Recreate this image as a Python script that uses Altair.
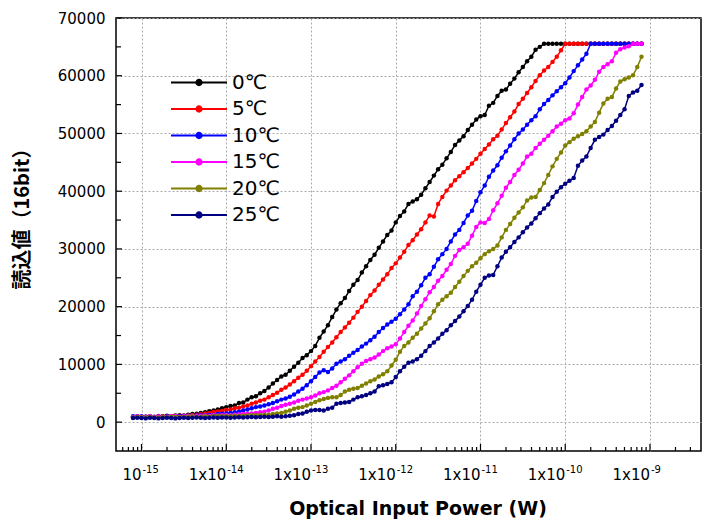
import altair as alt
import pandas as pd

# log10 of optical input power (W) at each measurement point
X_EXP = [
    -15.10, -15.05, -15.00, -14.95, -14.90, -14.85, -14.80, -14.75, -14.70, -14.65,
    -14.60, -14.55, -14.50, -14.45, -14.40, -14.35, -14.30, -14.25, -14.20, -14.15,
    -14.10, -14.05, -14.00, -13.95, -13.90, -13.85, -13.80, -13.75, -13.70, -13.65,
    -13.60, -13.55, -13.50, -13.45, -13.40, -13.35, -13.30, -13.25, -13.20, -13.15,
    -13.10, -13.05, -13.00, -12.95, -12.90, -12.85, -12.80, -12.75, -12.70, -12.65,
    -12.60, -12.55, -12.50, -12.45, -12.40, -12.35, -12.30, -12.25, -12.20, -12.15,
    -12.10, -12.05, -12.00, -11.95, -11.90, -11.85, -11.80, -11.75, -11.70, -11.65,
    -11.60, -11.55, -11.50, -11.45, -11.40, -11.35, -11.30, -11.25, -11.20, -11.15,
    -11.10, -11.05, -11.00, -10.95, -10.90, -10.85, -10.80, -10.75, -10.70, -10.65,
    -10.60, -10.55, -10.50, -10.45, -10.40, -10.35, -10.30, -10.25, -10.20, -10.15,
    -10.10, -10.05, -10.00, -9.95, -9.90, -9.85, -9.80, -9.75, -9.70, -9.65,
    -9.60, -9.55, -9.50, -9.45, -9.40, -9.35, -9.30, -9.25, -9.20, -9.15,
    -9.10,
]

SERIES = ["0℃", "5℃", "10℃", "15℃", "20℃", "25℃"]
COLORS = ["#000000", "#ff0000", "#0000ff", "#ff00ff", "#808000", "#000080"]

V_0C = [
    900, 1000, 850, 950, 1000, 900, 1050, 1000, 1100, 1000, 1150, 1200, 1150, 1300, 1400, 1450, 1600, 1700, 1900, 2000, 2200, 2400, 2600,
    2800, 2900, 3300, 3400, 3900, 4300, 4500, 5000, 5400, 6000, 6700, 7300, 7900, 8200, 8900, 9600, 10300, 11100, 11600, 12300,
    13200, 14600, 15700, 16800, 18200, 19500, 20600, 21500, 22700, 23800, 24600, 25900, 27000, 28100, 29000, 30200, 31300, 32400, 33200, 34600,
    35700, 36500, 37800, 38200, 38600, 39400, 40500, 41600, 42700, 43800, 44600, 45700, 46800, 48000, 48800, 49500, 50600, 51500, 52400, 53000,
    53200, 54800, 55300, 56500, 57400, 57600, 58600, 59500, 60600, 61500, 62500, 63300, 64500, 65000, 65535, 65535, 65535, 65535, 65535, 65535,
    65535, 65535, 65535, 65535, 65535, 65535, 65535, 65535, 65535, 65535, 65535, 65535, 65535, 65535, 65535, 65535, 65535, 65535,
]
V_5C = [
    800, 900, 850, 900, 950, 850, 900, 1000, 950, 1000, 1050, 1100, 1050, 1150, 1200, 1300, 1350, 1500, 1600, 1750, 1850, 1950, 2100,
    2200, 2400, 2500, 2700, 2900, 3200, 3400, 3700, 3900, 4300, 4700, 5100, 5600, 6000, 6500, 7100, 7700, 8200, 8900, 9700,
    10500, 11300, 12200, 13000, 13800, 14700, 15600, 16400, 17200, 18100, 19100, 20000, 21000, 22000, 22800, 23800, 24700, 25600, 26700, 27500,
    28500, 29500, 30700, 31500, 32500, 33400, 34600, 35800, 35600, 37800, 39000, 40100, 41000, 41900, 42600, 43300, 44000, 44800, 45600, 46500,
    47300, 48100, 49000, 49600, 50700, 51800, 52800, 53800, 55100, 56000, 57000, 58000, 59100, 60100, 60900, 61500, 62400, 63300, 64400, 65535,
    65535, 65535, 65535, 65535, 65535, 65535, 65535, 65535, 65535, 65535, 65535, 65535, 65535, 65535, 65535, 65535, 65535, 65535,
]
V_10C = [
    1000, 900, 1000, 950, 850, 900, 950, 900, 1000, 950, 1000, 1050, 1000, 1100, 1050, 1150, 1200, 1200, 1250, 1300, 1400, 1450, 1500,
    1600, 1700, 1800, 2000, 2200, 2400, 2600, 2700, 2900, 3100, 3300, 3600, 3900, 4100, 4400, 4800, 5300, 5800, 6400, 7100,
    7800, 8600, 9000, 8700, 9300, 10100, 10500, 10900, 11500, 12000, 12500, 13100, 13600, 14200, 14800, 15600, 16300, 16900, 17400, 17900,
    18700, 19500, 20400, 21800, 22600, 23700, 25000, 25600, 26900, 28200, 29100, 30000, 31300, 32500, 33300, 34500, 35800, 36600, 38300, 39800,
    41000, 42500, 43600, 44500, 45800, 46900, 47900, 49000, 50000, 50700, 51500, 52300, 53000, 54200, 55100, 55800, 56600, 57300, 58000, 58700,
    59700, 60800, 61800, 62800, 63800, 65535, 65535, 65535, 65535, 65535, 65535, 65535, 65535, 65535, 65535, 65535, 65535, 65535,
]
V_15C = [
    900, 1000, 950, 900, 1000, 950, 1000, 900, 950, 1000, 1050, 950, 1000, 1050, 1100, 1050, 1100, 1150, 1100, 1200, 1150, 1200, 1250,
    1200, 1300, 1350, 1400, 1450, 1500, 1600, 1700, 1800, 2000, 2300, 2500, 2800, 3000, 3200, 3400, 3700, 3900, 4100, 4300,
    4600, 5000, 5200, 5500, 5900, 6300, 6900, 7500, 8100, 8800, 9500, 10100, 10600, 10900, 11200, 11700, 12300, 12800, 13100, 13500,
    14500, 15600, 16700, 17600, 18800, 20100, 21300, 22500, 23400, 24500, 25300, 26400, 27400, 28800, 29800, 30300, 30900, 32300, 33800, 34600,
    34500, 35200, 36700, 37900, 39200, 40600, 41600, 42800, 43700, 44800, 46000, 46500, 47500, 48200, 48900, 49600, 50400, 51200, 51700, 52300,
    52600, 53500, 55000, 56300, 57600, 58300, 59300, 60700, 61500, 62000, 62500, 64000, 64600, 64900, 65100, 65535, 65535, 65535,
]
V_20C = [
    800, 900, 850, 800, 900, 850, 800, 900, 850, 900, 950, 850, 900, 950, 1000, 900, 950, 1000, 950, 1000, 1050, 1000, 1050,
    1050, 1100, 1050, 1100, 1150, 1200, 1200, 1250, 1300, 1300, 1400, 1500, 1600, 1800, 2000, 2300, 2500, 2600, 2900, 3200,
    3500, 3800, 4000, 4200, 4300, 4300, 4700, 5300, 5600, 5800, 5900, 6300, 6700, 7100, 7400, 7900, 8300, 8800, 9800, 10800,
    12200, 13200, 13800, 14600, 15300, 16200, 17100, 18000, 19200, 20400, 21200, 21800, 22400, 23400, 24300, 25300, 26200, 27000, 27600, 28400,
    29100, 29600, 30000, 30600, 32000, 33300, 34300, 35400, 36300, 37200, 38400, 38900, 39000, 40200, 41400, 42800, 44300, 45600, 46700, 47900,
    48500, 49100, 49500, 49900, 50400, 51200, 52000, 53600, 55200, 56000, 56300, 57800, 59000, 59400, 59700, 60100, 61500, 63300,
]
V_25C = [
    700, 750, 700, 650, 750, 700, 650, 700, 750, 700, 650, 700, 750, 700, 750, 800, 750, 700, 750, 800, 750, 800, 800,
    750, 800, 850, 800, 850, 900, 850, 900, 950, 900, 950, 1000, 950, 1000, 1100, 1200, 1400, 1500, 1800, 2000,
    2100, 2100, 2000, 2300, 2500, 3200, 3300, 3400, 3500, 3900, 4300, 4500, 4700, 5000, 5300, 6200, 6400, 6600, 6900, 7800,
    8800, 9600, 10300, 10500, 10900, 11500, 12300, 13200, 13800, 14500, 15300, 15900, 16800, 17500, 18300, 19200, 20100, 21200, 22600, 23800,
    25000, 25400, 25500, 27000, 28500, 29500, 30300, 31200, 32000, 32900, 33700, 34400, 35300, 36200, 37000, 37700, 39000, 39900, 40700, 41300,
    41800, 42300, 44400, 45300, 46000, 47500, 48900, 49400, 49800, 50600, 51300, 52200, 53200, 54200, 56500, 57100, 57400, 58400,
]
VALUES = [V_0C, V_5C, V_10C, V_15C, V_20C, V_25C]
for v in VALUES:
    assert len(v) == len(X_EXP), len(v)

# x tick labels: mantissa part and superscript exponent part
X_TICKS = [1e-15, 1e-14, 1e-13, 1e-12, 1e-11, 1e-10, 1e-9]
X_LABEL_BASE = ["10", "1x10", "1x10", "1x10", "1x10", "1x10", "1x10"]
X_LABEL_SUP = ["-15", "-14", "-13", "-12", "-11", "-10", "-9"]
X_MINOR = [k * 10.0 ** n for n in range(-16, -8) for k in range(2, 10)
           if 5.01e-16 < k * 10.0 ** n < 3.99e-9]
Y_TICKS = [0, 10000, 20000, 30000, 40000, 50000, 60000, 70000]
Y_MINOR = [5000, 15000, 25000, 35000, 45000, 55000, 65000]

rows = []
for name, vals in zip(SERIES, VALUES):
    for e, v in zip(X_EXP, vals):
        rows.append({"series": name, "power": 10.0 ** e, "value": v})
df = pd.DataFrame(rows)

BASE_FS, SUP_FS = 15, 10
lab_df = pd.DataFrame({
    "power": X_TICKS,
    "base": X_LABEL_BASE,
    "sup": X_LABEL_SUP,
    # shift so that mantissa + exponent together are centred on the tick
    "dx": [(BASE_FS * 0.62 * len(b) - SUP_FS * 0.55 * len(s)) / 2
           for b, s in zip(X_LABEL_BASE, X_LABEL_SUP)],
})

W, H = 585, 433
x_scale = alt.Scale(type="log", domain=[5e-16, 4e-9])
y_scale = alt.Scale(domain=[-5000, 70000])
color_scale = alt.Scale(domain=SERIES, range=COLORS)
fill_scale = alt.Scale(domain=SERIES, range=COLORS)

x_axis = alt.Axis(
    values=X_TICKS, labels=False, title="Optical Input Power (W)",
    grid=True, ticks=False, tickSize=0, domain=False,
    titleFont="DejaVu Sans", titleFontSize=19, titleFontWeight="bold",
    titleX=301.5, titleY=63, titleAlign="center", titleBaseline="alphabetic",
)
y_axis = alt.Axis(
    values=Y_TICKS, format="d", title="読込値（16bit）",
    grid=True, ticks=False, tickSize=0, domain=False,
    labelFont="DejaVu Sans", labelFontSize=15, labelPadding=11,
    labelOverlap=False, labelFlush=False,
    titleFont="Noto Sans CJK JP", titleFontSize=20, titleFontWeight="bold",
    titleX=-94, titleY=195.5, titleAngle=270, titleAlign="center", titleBaseline="middle",
)

SYMBOL = "M-1,0L1,0M-0.095,0A0.095,0.095,0,1,1,0.095,0A0.095,0.095,0,1,1,-0.095,0Z"
legend = alt.Legend(
    title=None, orient="none", legendX=54, legendY=53.5, padding=0,
    symbolType=SYMBOL, symbolSize=3136, symbolStrokeWidth=2, symbolOpacity=1,
    clipHeight=22, rowPadding=4.5,
    labelFont="DejaVu Sans", labelFontSize=20, labelColor="black", labelOffset=4,
)

X_ENC = alt.X("power:Q", scale=x_scale, axis=x_axis)
Y_ENC = alt.Y("value:Q", scale=y_scale, axis=y_axis)

series_layers = []
for name in SERIES:
    d = df[df["series"] == name]
    line = alt.Chart(d).mark_line(strokeWidth=1.5).encode(
        x=X_ENC, y=Y_ENC,
        color=alt.Color("series:N", scale=color_scale, legend=legend),
    )
    pts = alt.Chart(d).mark_circle(size=20, opacity=1).encode(
        x=X_ENC, y=Y_ENC,
        fill=alt.Fill("series:N", scale=fill_scale, legend=legend),
    )
    series_layers += [line, pts]

xt_major = alt.Chart(pd.DataFrame({"power": X_TICKS})).mark_rule(color="black", strokeWidth=1.2).encode(
    x=X_ENC, y=alt.value(H), y2=alt.value(H - 7))
xt_minor = alt.Chart(pd.DataFrame({"power": X_MINOR})).mark_rule(color="black", strokeWidth=1.2).encode(
    x=X_ENC, y=alt.value(H), y2=alt.value(H - 4))
yt_major = alt.Chart(pd.DataFrame({"value": Y_TICKS})).mark_rule(color="black", strokeWidth=1.2).encode(
    y=Y_ENC, x=alt.value(0), x2=alt.value(6))
yt_minor = alt.Chart(pd.DataFrame({"value": Y_MINOR})).mark_rule(color="black", strokeWidth=1.2).encode(
    y=Y_ENC, x=alt.value(0), x2=alt.value(5))

x_lab_base = alt.Chart(lab_df).mark_text(
    align="right", baseline="alphabetic", font="DejaVu Sans", fontSize=BASE_FS, color="black"
).encode(x=X_ENC, xOffset=alt.XOffset("dx:Q", scale=None), y=alt.value(H + 29), text="base:N")
x_lab_sup = alt.Chart(lab_df).mark_text(
    align="left", baseline="alphabetic", font="DejaVu Sans", fontSize=SUP_FS, color="black", dx=1
).encode(x=X_ENC, xOffset=alt.XOffset("dx:Q", scale=None), y=alt.value(H + 22), text="sup:N")

chart = (
    alt.layer(*series_layers, xt_major, xt_minor, yt_major, yt_minor, x_lab_base, x_lab_sup)
    .properties(
        width=W, height=H,
        autosize=alt.AutoSizeParams(type="none"),
        padding={"left": 116, "top": 18, "right": 3, "bottom": 72},
        background="white",
    )
    .configure_view(stroke="black", strokeWidth=1.5)
    .configure_axis(gridColor="#aaaaaa", gridDash=[2, 2], gridWidth=1,
                    labelColor="black", titleColor="black")
)

chart.save("out.html", embed_options={"renderer": "svg", "actions": False})
